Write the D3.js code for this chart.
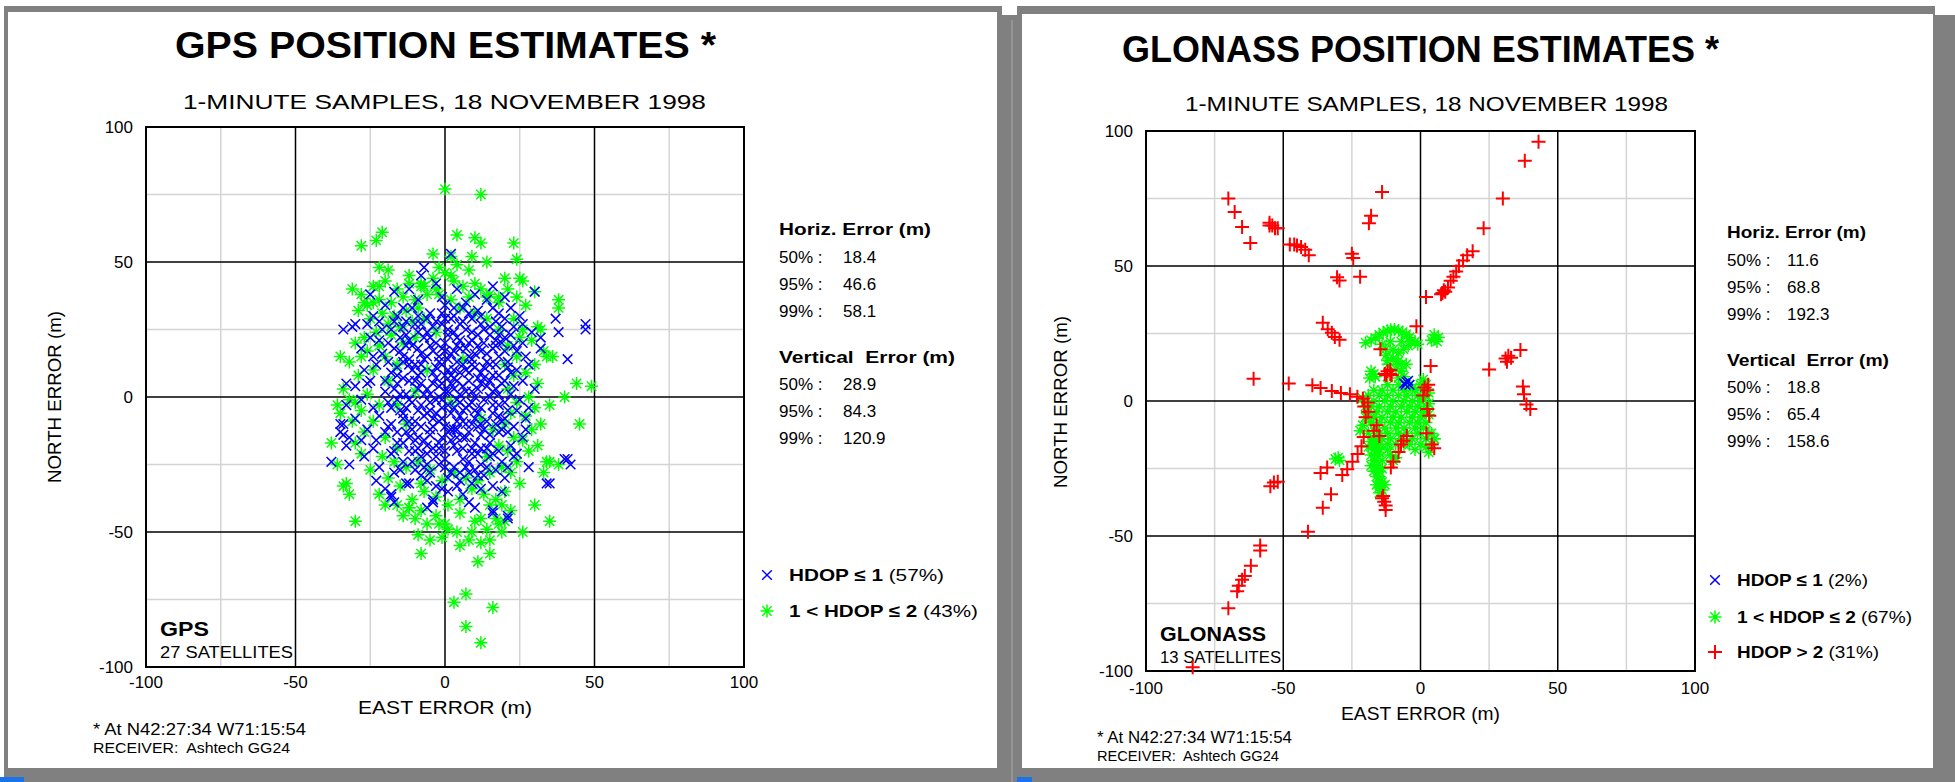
<!DOCTYPE html>
<html>
<head>
<meta charset="utf-8">
<title>GPS / GLONASS position estimates</title>
<script src="https://cdn.jsdelivr.net/npm/d3@7"></script>
<style>
  body { margin: 0; background: #fff; }
  svg { display: block; font-family: "Liberation Sans", Arial, Helvetica, sans-serif; }
</style>
</head>
<body>
<script>
// axis ticks / grid
const gridMajor = [-100, -50, 0, 50, 100];
const gridMinor = [-75, -25, 25, 75];
const tickLabels = ["-100", "-50", "0", "50", "100"];

// error statistics
const pctLabels = ["50% :", "95% :", "99% :"];
const gpsHoriz = ["18.4", "46.6", "58.1"];
const gpsVert = ["28.9", "84.3", "120.9"];
const glnHoriz = ["11.6", "68.8", "192.3"];
const glnVert = ["18.8", "65.4", "158.6"];

// legend shares
const gpsShares = ["(57%)", "(43%)"];
const glnShares = ["(2%)", "(67%)", "(31%)"];

// GPS, HDOP <= 1 (east, north in m)
const gpsHdop1 = [
  [-8,45],[-3,42],[4,40],[10,38],[-12,40],[16,41],[20,37],[-17,39],
  [-20,34],[-14,33],[-9,36],[-5,31],[0,34],[3,30],[7,35],[11,32],[14,36],[18,31],[22,33],[25,30],[-24,30],[-1,37],
  [-26,27],[-21,25],[-17,28],[-13,23],[-10,27],[-6,24],[-3,28],[1,25],[4,22],[6,28],[9,24],[12,27],[15,23],[19,26],[22,23],[26,27],[29,24],[-31,26],[2,29],
  [-28,18],[-24,15],[-19,20],[-15,17],[-12,21],[-8,16],[-5,19],[-2,15],[0,20],[3,17],[5,21],[8,15],[11,19],[14,16],[17,21],[20,17],[23,19],[27,15],[32,18],[-22,21],[7,18],
  [-27,10],[-23,12],[-18,9],[-14,13],[-11,10],[-7,14],[-4,9],[-1,12],[2,8],[4,13],[7,10],[9,14],[12,9],[15,12],[18,8],[21,13],[24,10],[28,12],[-9,8],[1,14],[10,11],
  [-30,4],[-25,6],[-20,2],[-16,5],[-13,1],[-10,6],[-6,3],[-3,7],[0,2],[2,5],[5,1],[8,6],[11,3],[13,7],[16,2],[19,5],[22,1],[26,6],[30,3],[-8,5],[6,4],[3,7],
  [-33,-3],[-28,-1],[-24,-4],[-19,-2],[-15,-5],[-12,-1],[-8,-3],[-5,-5],[-2,0],[1,-3],[4,-1],[6,-5],[9,-2],[12,-4],[15,0],[18,-3],[21,-5],[25,-1],[28,-4],[-1,-4],[10,0],
  [-35,-10],[-30,-8],[-26,-12],[-22,-7],[-18,-10],[-14,-8],[-11,-12],[-7,-7],[-4,-11],[-1,-8],[2,-12],[5,-7],[7,-10],[10,-8],[13,-12],[16,-6],[19,-9],[23,-11],[27,-8],[-3,-6],[4,-9],
  [-34,-14],[-28,-16],[-24,-19],[-20,-13],[-16,-17],[-12,-15],[-9,-19],[-5,-14],[-2,-17],[1,-13],[3,-18],[6,-15],[9,-19],[12,-14],[15,-17],[18,-13],[22,-18],[26,-15],[-7,-16],[8,-13],
  [-38,-24],[-32,-25],[-27,-22],[-22,-26],[-18,-21],[-14,-24],[-10,-20],[-6,-25],[-3,-22],[0,-20],[3,-26],[6,-23],[9,-21],[12,-25],[15,-22],[19,-24],[24,-21],[28,-26],[41,-23],[42,-25],
  [-23,-31],[-17,-28],[-12,-32],[-8,-29],[-3,-33],[1,-30],[5,-28],[9,-32],[13,-29],[16,-33],[20,-30],[34,-32],[-20,-34],
  [-18,-36],[-17,-39],[-4,-39],[1,-35],[6,-36],[8,-39],[16,-43],[21,-45],[10,-41],[-6,-41],
  [-13,28],[-9,30],[-4,26],[0,29],[5,27],[9,29],[13,25],[17,28],
  [-15,22],[-11,19],[-7,22],[-3,20],[1,23],[5,18],[9,21],[13,20],[17,19],[20,22],
  [-14,15],[-10,12],[-6,15],[-2,13],[2,16],[6,12],[10,16],[14,13],[18,15],[21,11],
  [-16,8],[-12,6],[-8,9],[-4,5],[0,8],[4,6],[8,9],[12,5],[16,8],[20,6],
  [-15,1],[-11,-2],[-7,1],[-3,-1],[1,2],[5,-2],[9,2],[13,-1],[17,3],[20,-2],
  [-14,-6],[-10,-9],[-6,-6],[-2,-9],[2,-6],[6,-9],[10,-5],[14,-9],[18,-7],
  [-13,-13],[-9,-15],[-5,-12],[-1,-15],[3,-12],[7,-15],[11,-11],[15,-14],[19,-12],
  [-12,-20],[-8,-22],[-4,-19],[0,-23],[4,-20],[8,-24],[12,-19],[16,-21],
  [-10,-27],[-5,-28],[0,-26],[5,-31],[10,-27],[14,-26],
  [-2,4],[3,10],[7,-4],[-6,-18],[11,-21],[-9,24],[6,33],[-1,18],[4,-15],[-12,12],[15,6],[8,-28],
  [-16,30],[-11,33],[-6,29],[-1,31],[3,33],[8,31],[12,30],[16,33],[20,29],
  [-18,25],[-14,26],[-8,27],[-5,22],[-1,27],[3,24],[7,25],[11,23],[15,26],[18,23],[23,26],
  [-17,18],[-13,19],[-9,18],[-4,17],[0,17],[4,19],[8,20],[12,17],[16,18],[19,20],[24,17],
  [-19,13],[-16,11],[-12,14],[-8,12],[-3,11],[1,10],[5,9],[9,12],[13,11],[17,12],[22,9],
  [-20,6],[-17,3],[-14,7],[-9,3],[-5,1],[-1,5],[3,3],[7,2],[11,7],[14,4],[18,1],[23,4],
  [-18,-4],[-16,-1],[-13,-4],[-9,-5],[-5,-2],[-1,-1],[3,-4],[8,-3],[11,-6],[16,-3],[20,-8],[24,-5],
  [-19,-11],[-16,-13],[-12,-9],[-8,-11],[-4,-8],[0,-11],[4,-12],[9,-10],[12,-10],[17,-10],[21,-13],
  [-17,-20],[-14,-17],[-10,-16],[-6,-21],[-2,-19],[2,-16],[6,-19],[10,-17],[14,-19],[18,-20],[23,-22],
  [-15,-27],[-11,-24],[-7,-26],[-2,-25],[2,-28],[7,-26],[11,-29],[17,-27],[21,-26],
  [-13,-32],[-6,-31],[-1,-34],[4,-33],[12,-34],[19,-35],
  [-21,16],[-25,22],[26,20],[27,-12],[-23,-16],[-26,5],
  [2,53],[-7,48],[-25,38],[-34,25],[-30,27],[-22,28],[30,39],[47,27],[47,25],[37,29],[41,14],[38,24],[32,22],
  [-33,5],[-34,-10],[-35,-13],[-33,-18],[-32,-15],[40,-23],[35,-32],[-18,-37],[-4,-38],[21,-44],[16,-42]
];

// GPS, 1 < HDOP <= 2
const gpsHdop2 = [
  [0,77],[12,75],[-21,61],[-28,56],[-23,58],[4,60],[10,59],[12,57],[23,57],[-4,53],[2,52],[9,52],[14,50],[24,51],
  [-22,48],[-19,47],[-2,48],[4,49],[2,45],[8,47],[20,44],[25,44],[26,43],[10,42],[-31,40],[-22,41],[-8,42],[-7,41],[-3,40],
  [30,39],[38,36],[38,33],[-27,35],[-24,35],[14,37],[18,37],[32,25],[-35,15],[-28,15],[34,15],[36,15],[44,5],[49,4],[40,0],
  [45,-10],[-36,-3],[31,-18],[34,-24],[38,-25],[-34,-33],[-32,-36],[-30,-46],[30,-40],[35,-46],[-9,-51],[-5,-53],[-8,-58],
  [-2,-47],[1,-49],[5,-55],[11,-61],[15,-58],[15,-53],[9,-50],[26,-50],[3,-76],[7,-73],[16,-78],[7,-85],[12,-91],
  [-16,-40],[-12,-41],[-8,-42],[15,-40],[19,-40],[20,-46],[17,-45],[12,-45],
  [-28,38],[-24,41],[-20,43],[-16,40],[-12,42],[-8,41],[-6,38],[-10,36],[-14,37],[-18,35],[-22,36],[-26,34],[-29,32],
  [-25,29],[-21,31],[-17,30],[-13,32],[-9,33],[-7,29],[-11,28],[-15,26],[-19,27],[-23,24],[-27,22],[-30,20],[-26,17],
  [-22,19],[-18,23],[-14,20],[-10,22],[-20,15],[-16,12],[-24,10],[-29,8],[-32,13],[-19,6],[-12,45],[-4,44],[0,46],[3,43],
  [6,41],[-2,38],[2,36],[5,33],[8,37],[12,40],[15,38],[18,35],[21,40],[24,37],[27,34],[23,29],[26,25],[29,21],[31,26],
  [33,17],[30,12],[27,9],[31,5],[28,0],[30,-4],[27,-7],[29,-12],[26,-16],[28,-20],[24,-24],[22,-28],[25,-32],[20,-35],
  [17,-38],[13,-36],[9,-34],[5,-38],[1,-40],[-3,-37],[-7,-35],[-11,-38],[-15,-33],[-19,-30],[-13,-26],[-17,-24],[-21,-22],
  [-25,-27],[-28,-21],[-30,-17],[-27,-13],[-31,-9],[-28,-5],[-32,-1],[-34,3],[-30,-2],[-26,1],[-22,-3],[-35,-6],
  [-24,-9],[-20,-15],[-16,-19],[-9,-24],[-5,-27],[-1,-31],[3,-28],[7,-30],[11,-31],[15,-28],[19,-26],[21,-20],[23,-15],
  [20,-10],[22,-6],[24,-2],[21,3],[23,8],[20,12],[24,15],[21,19],[25,22],[18,25],[14,29],[10,31],[-3,24],[-6,10],[-10,2],
  [2,-2],[-13,-10],[-16,-3],[6,14],[12,-8],[16,-12],[14,-22],[18,-18],[-8,-32],[-3,-44],[0,-47],[5,-43],[10,-46],[14,-49],
  [18,-47],[22,-42],[19,-50],[-6,-47],[-10,-45],[-12,-41],[-14,-44],[8,-53],[4,-50],[12,-54],[-1,-52],[-20,-40],[-22,-36],
  [33,-28],[35,-24],[32,-10],[35,-3],[-36,-25],[-38,-17],[-33,-32]
];

// GLONASS, HDOP <= 1
const glnHdop1 = [[-5,7],[-4,6],[-5.5,6],[-4.5,7.5],[-6,6.5]];

// GLONASS, 1 < HDOP <= 2
const glnHdop2 = [
  [-12,6],[-8,6],[-4,6],[0,6],
  [-17,4],[-14,4],[-10,4],[-6,4],[-2,4],[1,4],
  [-19,2],[-15,2],[-12,2],[-8,2],[-5,2],[-1,2],[2,2],
  [-20,0],[-17,0],[-13,0],[-10,0],[-6,0],[-3,0],[0,0],
  [-18,-2],[-15,-2],[-11,-2],[-7,-2],[-4,-2],[-1,-2],[2,-2],
  [-19,-4],[-16,-4],[-12,-4],[-9,-4],[-5,-4],[-2,-4],[1,-4],
  [-17,-6],[-14,-6],[-10,-6],[-7,-6],[-3,-6],[0,-6],
  [-18,-8],[-15,-8],[-11,-8],[-8,-8],[-4,-8],[-1,-8],[2,-8],
  [-16,-10],[-13,-10],[-9,-10],[-6,-10],[-2,-10],[1,-10],
  [-15,-12],[-12,-12],[-8,-12],[-5,-12],[-1,-12],[3,-12],
  [-14,-14],[-11,-14],[-7,-14],[-3,-14],[2,-14],[5,-14],
  [-15,-16],[-12,-16],[-4,-16],[4,-16],
  [-19,-6],[-20,-2],[-21,1],[-3,5],[1,1],[3,-1],[0,-16],[-2,-18],[-6,-16],[-9,-16],[-12,-18],
  [-20,21.6],[-18,22.5],[-16.4,23.3],[-15,24.5],[-13.6,25.4],[-12,26],[-10.8,26.4],[-9.5,26.5],[-8,26.1],[-6.5,25.5],
  [-5.2,24.7],[-4,23.5],[-3.4,21.9],[-4.5,20.5],[-6.2,19.2],[-8,17.8],[-9.9,15.7],[-8.5,14.5],[-7.1,13.6],[-5.2,13.6],
  [-9,12],[-7,11],[-6,9],[-8,8.5],[-12.7,19.2],[-12.5,17],[-12,15],[-11.8,13.6],[-14,21],[-11,22],[-7,22],[-10,19],
  [-2,22],[-1,21],
  [5,23],[6,22],[5,24.5],[4,22.5],[6.5,23.5],
  [-18,11],[-17,10],[-18.5,8.5],[-16.5,9],
  [-17,-14],[-16,-16],[-17,-18],[-16,-20],[-17,-22],[-16,-24],[-15,-26],[-16,-28],[-15,-30],[-15,-32],[-14,-33],
  [-15,-19],[-14,-22],[-18,-20],[-19,-17],[-18,-15],
  [-15,-18],[-16,-22],[-14,-25],[-15,-28],[-14,-30],[-16,-31],[-13,-31],[-15,-34],[-17,-26],[-18,-24],[-17,-16],
  [-16,-13],[-19,-12],
  [-30,-21],[-31,-21.5],[-29.5,-22],[-10,-22],[-9,-21],[-11,-20],[2,-17],[3,-19],[5,-14],[4,-12],
  [-21,-9],[-22,-11],[-20,-6],[3,-5],[3,3],[2,6],[1,8]
];

// GLONASS, HDOP > 2
const glnHdop3 = [
  [43,96],[38,89],[30,75],[23,64],[19,55.5],[17,54],[15.5,52],[14,50],[13,48],[12,46],[11,44.5],[10,42],[8.5,41],[8,40],
  [7.5,39.5],[9,40.5],[2,38.5],
  [-1.5,27.7],[3.7,13],[2.8,6],[2.5,4],[25,11.7],[31,15.7],[32,16.8],[31.5,14.5],[33,16],[36.4,18.9],[37.3,5.4],[37.7,2.5],
  [38.6,-1.3],[40,-3],
  [-70,75],[-67.7,70],[-65,64.4],[-62,58.5],[-55,66],[-54,65],[-53,64],[-52,64],[-55,65],[-47.6,58],[-46,58],[-45,57.6],
  [-43.5,57],[-42,56],[-40.7,54],[-25,54.5],[-24.5,53],[-22,46],[-30.4,45.8],[-29.5,44.6],[-18,68.6],[-18.8,65.8],[-14,77.4],
  [-35.6,29],[-33.8,26.6],[-32.3,25.3],[-31.2,23.7],[-29.5,22.7],
  [-60.8,8.2],[-48,6.5],[-39.4,5.8],[-36.4,4.8],[-32.3,3.7],[-29,3],[-25.7,2.5],[-23,1.6],[-21,0.8],[-19.2,-0.6],
  [-20.5,-2],[-19,-4],[-20,-6],
  [-12,11],[-11,10],[-12.5,9.5],[-11,11.5],[-10.5,9.5],[-13,10],[-14.6,19.2],
  [-20.7,-13.3],[-21.5,-16.8],[-22.9,-19.6],[-24.8,-22.5],[-26.7,-25.3],[-28.5,-27.4],[-34,-24.6],[-36.4,-26.7],
  [-32.6,-34.5],[-35.6,-39.5],[-41,-48.4],[-53.4,-30.2],[-52,-29.9],[-54.7,-31.6],
  [-58.4,-53.5],[-58.4,-55.4],[-61.8,-61],[-64,-64.8],[-65,-66.2],[-66.2,-68.4],[-66.8,-70.5],[-70,-76.8],[-83,-98.6],
  [-13.6,-35.2],[-13.2,-37.3],[-12.7,-38.7],[-12.7,-40.4],[-14,-36],
  [-10.8,-24.6],[-9.9,-22.5],[-8,-18.9],[-7.1,-16.1],[-6.2,-14.7],[-5,-13],
  [2.2,-11.9],[4.1,-16.1],[5,-17.5],[3.2,-5.5],[2.5,-3],[1,2],[1.5,5],
  [-16,-9],[-17,-11],[-15,-13]
];

const W = 1955, H = 782;
const svg = d3.select("body").append("svg").attr("width", W).attr("height", H);

// window frame
svg.append("rect").attr("width", W).attr("height", H).attr("fill", "#fff");
svg.append("rect").attr("x", 4).attr("y", 6).attr("width", 1931).attr("height", H - 6).attr("fill", "#808080");
svg.append("rect").attr("x", 1933).attr("y", 15).attr("width", 22).attr("height", H - 15).attr("fill", "#808080");
svg.append("rect").attr("x", 1002).attr("y", 0).attr("width", 15).attr("height", 15).attr("fill", "#fff");
svg.append("line").attr("x1", 1012).attr("x2", 1012).attr("y1", 20).attr("y2", H).attr("stroke", "#a8a8a8");
svg.append("rect").attr("x", 8).attr("y", 12).attr("width", 989).attr("height", 756).attr("fill", "#fff");
svg.append("rect").attr("x", 1022).attr("y", 14).attr("width", 911).attr("height", 754).attr("fill", "#fff");
svg.append("rect").attr("x", 0).attr("y", 777).attr("width", 24).attr("height", 5).attr("fill", "#1a73e8");
svg.append("rect").attr("x", 1017).attr("y", 777).attr("width", 15).attr("height", 5).attr("fill", "#1a73e8");

// marker shapes
const markX = h => `M${-h},${-h}L${h},${h}M${-h},${h}L${h},${-h}`;
const markPlus = h => `M${-h},0L${h},0M0,${-h}L0,${h}`;
const markStar = h => { const d = h * 0.72; return markPlus(h) + `M${-d},${-d}L${d},${d}M${-d},${d}L${d},${-d}`; };

const styles = {
  x:    { d: markX(4.8), color: "#0000ff", sw: 1.5 },
  star: { d: markStar(6.5), color: "#00ff00", sw: 1.5 },
  plus: { d: markPlus(7), color: "#ff0000", sw: 2 }
};

function txt(g, x, y, str, o) {
  const t = g.append("text").attr("x", x).attr("y", y).text(str)
    .attr("font-size", o.size).attr("text-anchor", o.anchor || "start");
  if (o.bold) t.attr("font-weight", "bold");
  if (o.w) t.attr("textLength", o.w).attr("lengthAdjust", "spacingAndGlyphs");
  return t;
}

function drawPanel(p) {
  const g = svg.append("g");
  const x = d3.scaleLinear().domain([-100, 100]).range([p.left, p.right]);
  const y = d3.scaleLinear().domain([-100, 100]).range([p.bottom, p.top]);

  txt(g, p.titleX, p.titleY, p.title, { size: 36, bold: true, w: p.titleW });
  txt(g, p.subX, p.subY, "1-MINUTE SAMPLES, 18 NOVEMBER 1998", { size: 21, w: p.subW });

  // grid
  g.selectAll(null).data(gridMinor).join("line")
    .attr("x1", d => x(d)).attr("x2", d => x(d)).attr("y1", p.top).attr("y2", p.bottom)
    .attr("stroke", "#d4d4d4").attr("stroke-width", 1.5);
  g.selectAll(null).data(gridMinor).join("line")
    .attr("y1", d => y(d)).attr("y2", d => y(d)).attr("x1", p.left).attr("x2", p.right)
    .attr("stroke", "#d4d4d4").attr("stroke-width", 1.5);
  const inner = gridMajor.slice(1, -1);
  g.selectAll(null).data(inner).join("line")
    .attr("x1", d => x(d)).attr("x2", d => x(d)).attr("y1", p.top).attr("y2", p.bottom)
    .attr("stroke", "#000").attr("stroke-width", 1.5);
  g.selectAll(null).data(inner).join("line")
    .attr("y1", d => y(d)).attr("y2", d => y(d)).attr("x1", p.left).attr("x2", p.right)
    .attr("stroke", "#000").attr("stroke-width", 1.5);
  g.append("rect").attr("x", p.left).attr("y", p.top)
    .attr("width", p.right - p.left).attr("height", p.bottom - p.top)
    .attr("fill", "none").attr("stroke", "#000").attr("stroke-width", 2);

  // tick labels
  g.selectAll(null).data(gridMajor).join("text")
    .attr("x", p.left - 13).attr("y", d => y(d) + 6).attr("text-anchor", "end")
    .attr("font-size", 17).text((d, i) => tickLabels[i]);
  g.selectAll(null).data(gridMajor).join("text")
    .attr("x", d => x(d)).attr("y", p.xTickY).attr("text-anchor", "middle")
    .attr("font-size", 17).text((d, i) => tickLabels[i]);

  txt(g, (p.left + p.right) / 2, p.xLabY, "EAST ERROR (m)", { size: 19, anchor: "middle", w: p.xLabW });
  txt(g, 0, 0, "NORTH ERROR (m)", { size: 19, anchor: "middle", w: 172 })
    .attr("transform", `translate(${p.yLabX},${p.yLabY}) rotate(-90)`);

  // system label inside plot
  txt(g, p.left + 14, p.sysY, p.sys, { size: 20, bold: true, w: p.sysW });
  txt(g, p.left + 14, p.sysY + 22, p.sats, { size: 16, w: p.satsW });

  // points, in drawing order
  p.series.forEach(s => {
    const st = styles[s.mark];
    g.append("g").selectAll("path").data(s.data).join("path")
      .attr("d", st.d)
      .attr("transform", d => `translate(${x(d[0])},${y(d[1])})`)
      .attr("fill", "none").attr("stroke", st.color).attr("stroke-width", st.sw);
  });

  // statistics
  const sx = p.statsX, y0 = p.statsY;
  txt(g, sx, y0, "Horiz. Error (m)", { size: 17, bold: true, w: p.hW });
  pctLabels.forEach((lab, i) => {
    txt(g, sx, y0 + 28 + 27 * i, lab, { size: 17 });
    txt(g, p.valX, y0 + 28 + 27 * i, p.horiz[i], { size: 17 });
  });
  txt(g, sx, y0 + 128, "Vertical  Error (m)", { size: 17, bold: true, w: p.vW }).attr("xml:space", "preserve");
  pctLabels.forEach((lab, i) => {
    txt(g, sx, y0 + 155 + 27 * i, lab, { size: 17 });
    txt(g, p.valX, y0 + 155 + 27 * i, p.vert[i], { size: 17 });
  });

  // legend, in legend order
  p.series.slice().sort((a, b) => a.leg - b.leg).forEach((s, i) => {
    const st = styles[s.mark];
    const ly = p.legY[i];
    g.append("path").attr("d", st.d).attr("transform", `translate(${p.legX},${ly})`)
      .attr("fill", "none").attr("stroke", st.color).attr("stroke-width", st.sw);
    const t = g.append("text").attr("x", p.legX + 22).attr("y", ly + 6).attr("font-size", 17)
      .attr("textLength", s.legW).attr("lengthAdjust", "spacingAndGlyphs");
    t.append("tspan").attr("font-weight", "bold").text(s.label);
    t.append("tspan").text(" " + s.share);
  });

  // footnote
  txt(g, p.footX, p.footY, "* At N42:27:34 W71:15:54", { size: 16, w: p.footW1 });
  txt(g, p.footX, p.footY + 18, "RECEIVER:  Ashtech GG24", { size: 15, w: p.footW2 }).attr("xml:space", "preserve");
}

drawPanel({
  title: "GPS POSITION ESTIMATES *", titleX: 175, titleY: 58, titleW: 541,
  subX: 183, subY: 109, subW: 523,
  left: 146, right: 744, top: 127, bottom: 667,
  xTickY: 688, xLabY: 714, xLabW: 174, yLabX: 61, yLabY: 397,
  sys: "GPS", sysY: 636, sysW: 49, sats: "27 SATELLITES", satsW: 133,
  statsX: 779, valX: 843, statsY: 235, hW: 152, vW: 176,
  horiz: gpsHoriz, vert: gpsVert,
  legX: 767, legY: [575, 611],
  series: [
    { data: gpsHdop2, mark: "star", label: "1 < HDOP \u2264 2", share: gpsShares[1], legW: 189, leg: 1 },
    { data: gpsHdop1, mark: "x", label: "HDOP \u2264 1", share: gpsShares[0], legW: 155, leg: 0 }
  ],
  footX: 93, footY: 735, footW1: 213, footW2: 197
});

drawPanel({
  title: "GLONASS POSITION ESTIMATES *", titleX: 1122, titleY: 62, titleW: 597,
  subX: 1185, subY: 111, subW: 483,
  left: 1146, right: 1695, top: 131, bottom: 671,
  xTickY: 694, xLabY: 720, xLabW: 159, yLabX: 1067, yLabY: 402,
  sys: "GLONASS", sysY: 641, sysW: 106, sats: "13 SATELLITES", satsW: 121,
  statsX: 1727, valX: 1787, statsY: 238, hW: 139, vW: 162,
  horiz: glnHoriz, vert: glnVert,
  legX: 1715, legY: [580, 617, 652],
  series: [
    { data: glnHdop2, mark: "star", label: "1 < HDOP \u2264 2", share: glnShares[1], legW: 175, leg: 1 },
    { data: glnHdop3, mark: "plus", label: "HDOP > 2", share: glnShares[2], legW: 142, leg: 2 },
    { data: glnHdop1, mark: "x", label: "HDOP \u2264 1", share: glnShares[0], legW: 131, leg: 0 }
  ],
  footX: 1097, footY: 743, footW1: 195, footW2: 182
});
</script>
</body>
</html>
